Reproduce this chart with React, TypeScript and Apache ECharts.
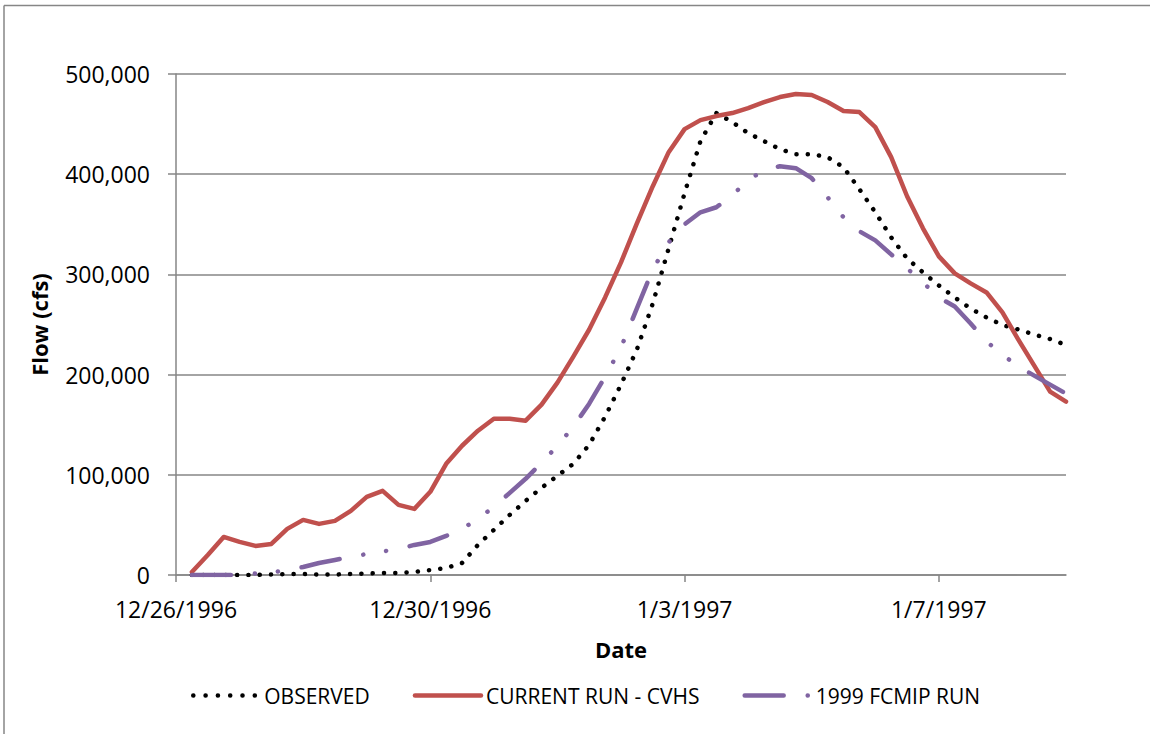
import React, { useEffect, useRef } from "react";
import * as echarts from "echarts";

// x positions: days after 12/26/1996 00:00, one reading every 6 hours
const stepDays = 0.25;
const tickLabels = ["12/26/1996", "12/30/1996", "1/3/1997", "1/7/1997"];
const tickDays = [0, 4, 8, 12];
const yTicks = [0, 100000, 200000, 300000, 400000, 500000];

const observed = [
  0, 0, 0, 0, 0, 500, 1000, 1000, 500, 500, 1000, 1500, 2000, 2000, 3000, 5000,
  7000, 12000, 30000, 45000, 60000, 74000, 87000, 99000, 111000, 130000, 158000, 190000,
  225000, 271000, 326000, 381000, 433000, 461000, 452000, 441000, 433000, 425000, 420000, 420000,
  417000, 407000, 385000, 362000, 337000, 316000, 302000, 289000, 277000, 266000, 257000, 249500,
  245000, 240000, 235500, 229500,
];

const currentRun = [
  3000, 20000, 38000, 33000, 29000, 31000, 46000, 55000, 51000, 54000, 64000, 78000, 84000, 70000,
  66000, 83000, 111000, 129000, 144000, 156000, 156000, 154000, 170000, 192000, 218000, 245000,
  277000, 312000, 351000, 388000, 422000, 445000, 454000, 458000, 461000, 466000, 472000, 477000,
  480000, 479000, 472000, 463000, 462000, 447000, 417000, 378000, 346000, 318000, 301000, 291000,
  282000, 262000, 235000, 209000, 183000, 173000,
];

const fcmip1999 = [
  0, 0, 0, 0, 1500, 2500, 5000, 8000, 12000, 15000, 18000, 21000, 23500, 26000, 30000, 33000,
  39000, 46000, 56000, 68000, 82000, 96000, 112000, 129000, 148000, 171000, 198000, 227000,
  266000, 305000, 332000, 350000, 362000, 367000, 379000, 394000, 404000, 408000, 406000, 396000,
  377000, 357000, 343000, 334000, 320000, 306000, 292000, 277000, 268000, 251000, 233000, 220000,
  208000, 199000, 190000, 181000,
];

const seriesNames = ["OBSERVED", "CURRENT RUN - CVHS", "1999 FCMIP RUN"];

const toPairs = (vals: number[]) => vals.map((v, i) => [(i + 1) * stepDays, v]);

const FONT = "'Open Sans', 'Liberation Sans', sans-serif";
const GRID_GRAY = "#868686";
const BLACK = "#000000";
const RED = "#C0504D";
const PURPLE = "#8064A2";
const DOTS = [0.1, 11.2];
const LEGEND_DOTS = [0.1, 12.2];
const DASH_DOT_DOT = [39, 24, 0.1, 23, 0.1, 24];

export default function App() {
  const ref = useRef<HTMLDivElement>(null);
  useEffect(() => {
    document.body.style.margin = "0";
    if (!ref.current) return;
    const chart = echarts.init(ref.current, undefined, { renderer: "svg" });
    chart.setOption({
      animation: false,
      backgroundColor: "#ffffff",
      graphic: [
        {
          type: "line",
          shape: { x1: 4, y1: 5.5, x2: 1300, y2: 5.5 },
          style: { stroke: GRID_GRAY, lineWidth: 1.5 },
          silent: true,
        },
        {
          type: "line",
          shape: { x1: 4, y1: 5.5, x2: 4, y2: 900 },
          style: { stroke: GRID_GRAY, lineWidth: 1.5 },
          silent: true,
        },
      ],
      grid: { left: 176, right: 84, top: 74, bottom: 159, containLabel: false },
      legend: {
        left: 186,
        top: 680,
        itemWidth: 66,
        itemHeight: 14,
        itemGap: 43,
        itemStyle: { opacity: 0 },
        textStyle: { fontFamily: FONT, fontSize: 21, color: "#000" },
        data: [
          { name: seriesNames[0], itemStyle: { opacity: 0 }, lineStyle: { width: 4.5, type: LEGEND_DOTS, cap: "round", color: BLACK } },
          { name: seriesNames[1], itemStyle: { opacity: 0 }, lineStyle: { width: 4.5, type: "solid", cap: "round", color: RED } },
          { name: seriesNames[2], itemStyle: { opacity: 0 }, lineStyle: { width: 4.5, type: DASH_DOT_DOT, cap: "round", color: PURPLE } },
        ],
      },
      xAxis: {
        type: "value",
        min: 0,
        max: 14,
        interval: 4,
        name: "Date",
        nameLocation: "middle",
        nameGap: 63,
        nameTextStyle: { fontFamily: FONT, fontSize: 22, fontWeight: "bold", color: "#000" },
        axisLine: { show: true, lineStyle: { color: GRID_GRAY, width: 1.5 } },
        axisTick: { show: true, inside: false, length: 7, customValues: tickDays, lineStyle: { color: GRID_GRAY, width: 1.5 } },
        axisLabel: {
          customValues: tickDays,
          margin: 22,
          fontFamily: FONT,
          fontSize: 23,
          color: "#000",
          formatter: (v: number) => {
            const idx = tickDays.indexOf(v);
            return idx >= 0 ? tickLabels[idx] : "";
          },
        },
        splitLine: { show: false },
      },
      yAxis: {
        type: "value",
        min: yTicks[0],
        max: yTicks[yTicks.length - 1],
        interval: 100000,
        name: "Flow (cfs)",
        nameLocation: "middle",
        nameGap: 126,
        nameRotate: 90,
        nameTextStyle: { fontFamily: FONT, fontSize: 22, fontWeight: "bold", color: "#000" },
        axisLine: { show: true, lineStyle: { color: GRID_GRAY, width: 1.5 } },
        axisTick: { show: true, inside: false, length: 8, lineStyle: { color: GRID_GRAY, width: 1.5 } },
        axisLabel: {
          margin: 26,
          fontFamily: FONT,
          fontSize: 23,
          color: "#000",
          formatter: (v: number) => v.toLocaleString("en-US"),
        },
        splitLine: { show: true, lineStyle: { color: GRID_GRAY, width: 1.5 } },
      },
      series: [
        {
          name: seriesNames[0],
          type: "line",
          symbol: "none",
          data: toPairs(observed),
          lineStyle: { color: BLACK, width: 4.5, type: DOTS, cap: "round" },
          itemStyle: { color: BLACK },
        },
        {
          name: seriesNames[1],
          type: "line",
          symbol: "none",
          data: toPairs(currentRun),
          lineStyle: { color: RED, width: 4.5, type: "solid", cap: "round", join: "round" },
          itemStyle: { color: RED },
        },
        {
          name: seriesNames[2],
          type: "line",
          symbol: "none",
          data: toPairs(fcmip1999),
          lineStyle: { color: PURPLE, width: 4.5, type: DASH_DOT_DOT, cap: "round", join: "round" },
          itemStyle: { color: PURPLE },
        },
      ],
    });
    return () => chart.dispose();
  }, []);
  return <div ref={ref} style={{ width: 1150, height: 734 }} />;
}
